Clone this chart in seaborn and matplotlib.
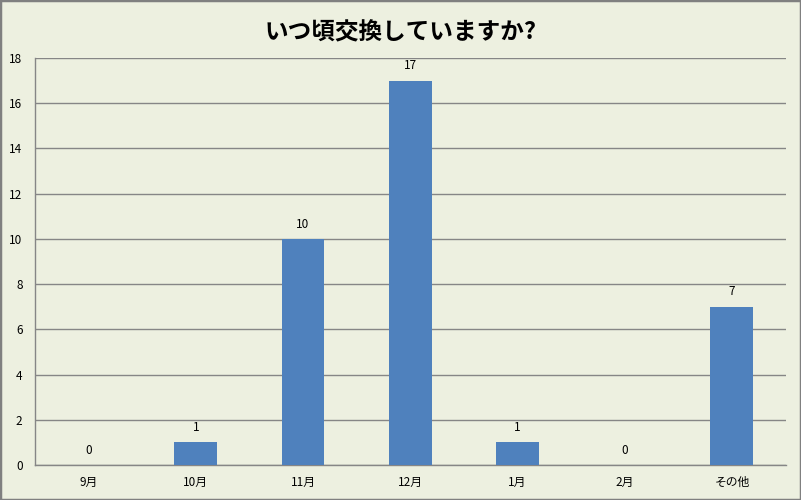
import pandas as pd
import seaborn as sns
import matplotlib.pyplot as plt
from matplotlib.patches import Rectangle

months = ['9月', '10月', '11月', '12月', '1月', '2月', 'その他']
counts = [0, 1, 10, 17, 1, 0, 7]
y_ticks = [0, 2, 4, 6, 8, 10, 12, 14, 16, 18]

df = pd.DataFrame({'month': months, 'count': counts})

sns.set_style('white')
plt.rcParams['font.family'] = ['Noto Sans CJK JP', 'DejaVu Sans']

bg = '#EDF0E0'
fig = plt.figure(figsize=(8.01, 5.0), dpi=100, facecolor=bg)
ax = fig.add_axes([0.0437, 0.07, 0.937, 0.814])
ax.set_facecolor(bg)

sns.barplot(data=df, x='month', y='count', color='#4F81BD', saturation=1,
            width=0.4, linewidth=0, ax=ax, zorder=3)

# data labels
for c in ax.containers:
    ax.bar_label(c, labels=[str(v) for v in counts], padding=6, fontsize=8.5, color='black')

ax.set_ylim(0, 18)
ax.set_yticks(y_ticks)
ax.set_xlim(-0.5, len(months) - 0.5)
ax.grid(axis='y', color='#868686', linewidth=1, zorder=0)
ax.set_axisbelow(True)
ax.set_xlabel('')
ax.set_ylabel('')

for s in ['top', 'right']:
    ax.spines[s].set_visible(False)
for s in ['left', 'bottom']:
    ax.spines[s].set_color('#868686')
    ax.spines[s].set_linewidth(1)

# x ticks at category boundaries
ax.set_xticks(range(len(months)))
ax.set_xticklabels(months, fontsize=8.5, color='black')
ax.tick_params(axis='x', length=0, pad=8)
ax.set_xticks([i - 0.5 for i in range(len(months) + 1)], minor=True)
ax.tick_params(axis='x', which='minor', length=5, color='#868686', direction='out')
ax.tick_params(axis='y', length=4, color='#868686', direction='out', labelsize=8.5,
               labelcolor='black', pad=5)

fig.suptitle('いつ頃交換していますか?', fontsize=17, fontweight='bold', color='black', y=0.96)

fig.patches.append(Rectangle((0, 0), 1, 1, transform=fig.transFigure, fill=False,
                             edgecolor='#808080', linewidth=2.5))

fig.savefig('out.png', dpi=100, facecolor=bg)
